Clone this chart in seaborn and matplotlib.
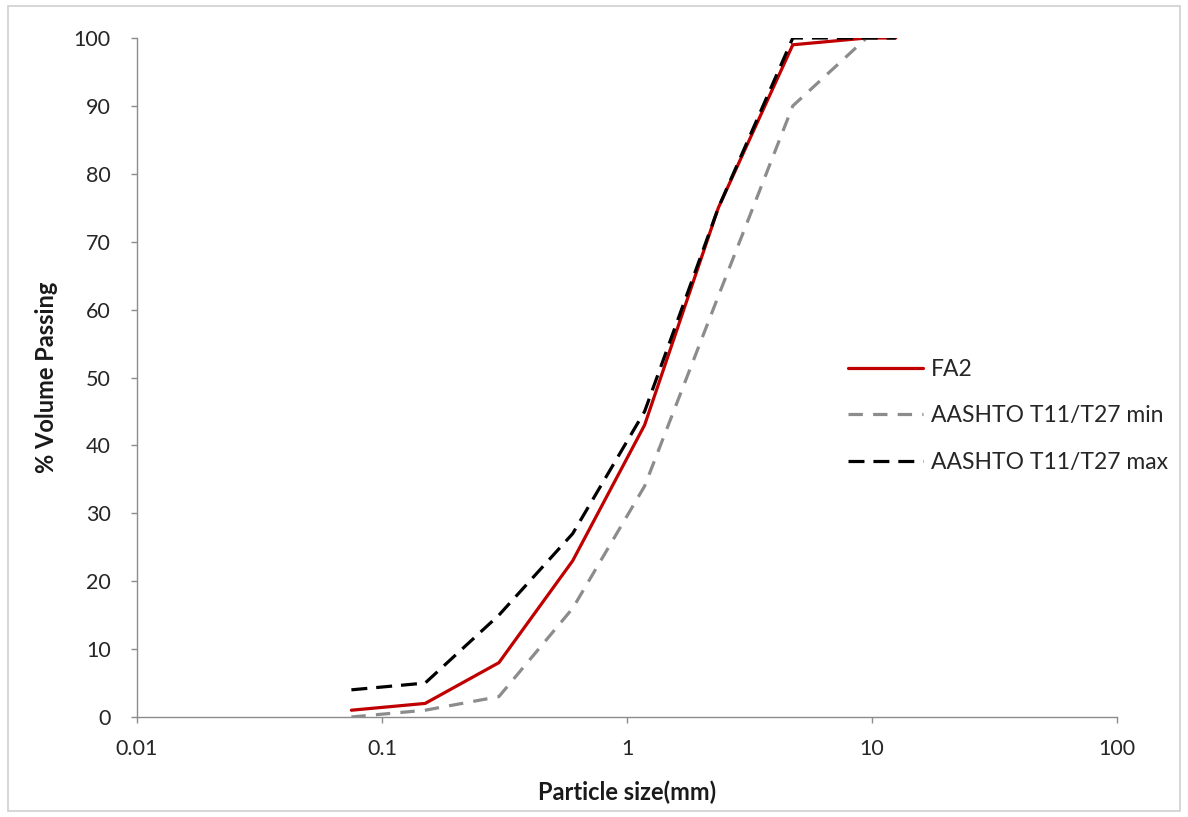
import matplotlib
matplotlib.use("Agg")
import matplotlib.pyplot as plt
import matplotlib.patches as mpatches
import numpy as np
import pandas as pd
import seaborn as sns

# Sieve sizes (mm) and cumulative % passing
sieve_mm = [0.075, 0.15, 0.3, 0.6, 1.18, 2.36, 4.75, 9.5, 12.5]
fa2 = [1, 2, 8, 23, 43, 75, 99, 100, 100]
spec_min = [0, 1, 3, 16, 34, 62, 90, 100, 100]
spec_max = [4, 5, 15, 27, 45, 75, 100, 100, 100]

series_names = ["FA2", "AASHTO T11/T27 min", "AASHTO T11/T27 max"]
x_ticks = [0.01, 0.1, 1, 10, 100]
x_tick_labels = ["0.01", "0.1", "1", "10", "100"]
y_ticks = list(range(0, 101, 10))

frames = []
for name, vals in zip(series_names, [fa2, spec_min, spec_max]):
    frames.append(pd.DataFrame({"size": sieve_mm, "passing": vals, "series": name}))
df = pd.concat(frames, ignore_index=True)

sns.set_theme(style="white")
plt.rcParams["font.family"] = ["Lato", "DejaVu Sans"]

fig = plt.figure(figsize=(11.88, 8.17), dpi=100)
ax = fig.add_axes([137 / 1188, 1 - 717 / 817, 980 / 1188, 679 / 817])

palette = {
    "FA2": "#C00000",
    "AASHTO T11/T27 min": "#8C8C8C",
    "AASHTO T11/T27 max": "#000000",
}
dashes = {
    "FA2": "",
    "AASHTO T11/T27 min": (4.5, 3.2),
    "AASHTO T11/T27 max": (5, 2.8),
}

sns.lineplot(
    data=df, x="size", y="passing", hue="series", style="series",
    hue_order=series_names, style_order=series_names,
    palette=palette, dashes=dashes, linewidth=2.3, ax=ax,
    sort=False, estimator=None,
)

ax.set_xscale("log")
ax.set_xlim(0.01, 100)
ax.set_ylim(0, 100)
ax.set_xticks(x_ticks)
ax.set_xticklabels(x_tick_labels)
ax.set_yticks(y_ticks)
ax.xaxis.set_minor_locator(matplotlib.ticker.NullLocator())

for side in ["top", "right"]:
    ax.spines[side].set_visible(False)
for side in ["left", "bottom"]:
    ax.spines[side].set_color("#8C8C8C")
    ax.spines[side].set_linewidth(1.0)

ax.tick_params(axis="both", which="major", direction="out", length=4,
               width=1, color="#8C8C8C", labelsize=15.5, labelcolor="#262626",
               left=True, bottom=True)
ax.tick_params(axis="x", pad=12)
ax.tick_params(axis="y", pad=15)

ax.set_xlabel("Particle size(mm)", fontsize=17, fontweight="bold",
              color="#1a1a1a", labelpad=15)
ax.set_ylabel("% Volume Passing", fontsize=17, fontweight="bold",
              color="#1a1a1a", labelpad=11)

leg = ax.legend(
    loc="upper left", bbox_to_anchor=(0.725, 0.527), frameon=False,
    fontsize=16.5, handlelength=3.3, handletextpad=0.35, labelspacing=1.1,
    borderpad=0, borderaxespad=0,
)
for txt in leg.get_texts():
    txt.set_color("#262626")

# light frame around the whole figure
fig.patches.append(mpatches.Rectangle(
    (8 / 1188, 6 / 817), 1172 / 1188, 805 / 817, transform=fig.transFigure,
    fill=False, edgecolor="#D0D0D0", linewidth=1.2))

fig.savefig("out.png", dpi=100)
